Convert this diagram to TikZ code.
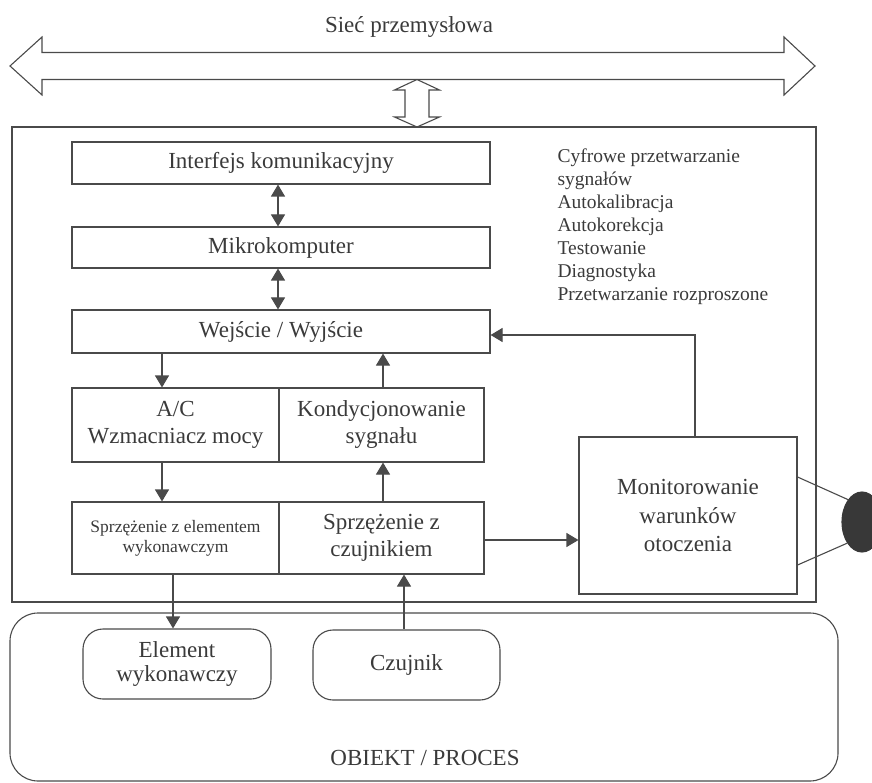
\documentclass[tikz,border=0pt]{standalone}
\usepackage{fontspec}
\setmainfont{Liberation Serif}
\usetikzlibrary{arrows.meta,shapes.geometric}
\definecolor{ink}{HTML}{4A4A4A}
\definecolor{txt}{HTML}{3A3A3A}
\definecolor{blob}{HTML}{383838}
\newcommand\txtL{\fontsize{23}{27}\selectfont}
\newcommand\txtM{\fontsize{19.5}{23}\selectfont}
\newcommand\txtS{\fontsize{17.5}{20}\selectfont}
\begin{document}
\begin{tikzpicture}[x=1pt,y=-1pt,line width=1.1pt,color=ink,
  every node/.style={text=txt},
  box/.style={draw=ink,rectangle,inner sep=0pt,align=center,font=\txtL},
  rbox/.style={box,rounded corners=20pt},
  arr/.style={-{Triangle[width=14pt,length=12pt]}},
  dbl/.style={{Triangle[width=14pt,length=12pt]}-{Triangle[width=14pt,length=12pt]}},
  hollow/.style={draw=ink,line width=1.1pt,line join=miter}]
\useasboundingbox (0,0) rectangle (872,783);

% industrial network bus
\draw[hollow] (10,66) -- (42,37) -- (42,52.5) -- (784,52.5) -- (784,37) -- (815,66)
  -- (784,95) -- (784,79.5) -- (42,79.5) -- (42,95) -- cycle;
\node[anchor=base,font=\txtL] (netlbl) at (409,33) {Sieć przemysłowa};

% link between the bus and the device
\draw[hollow] (417,79.5) -- (439.5,90) -- (429,90) -- (429,117) -- (439.5,117) -- (417,127)
  -- (394.5,117) -- (405,117) -- (405,90) -- (394.5,90) -- cycle;

% device enclosure
\node[draw=ink,minimum width=804pt,minimum height=475pt,inner sep=0pt] (dev) at (414,364.5) {};

% functional blocks
\node[box,minimum width=418pt,minimum height=42pt] (ik) at (281,163) {Interfejs komunikacyjny};
\node[box,minimum width=418pt,minimum height=41pt] (mk) at (281,247.5) {Mikrokomputer};
\node[box,minimum width=418pt,minimum height=43pt] (we) at (281,331.5) {Wejście / Wyjście};
\node[box,minimum width=207pt,minimum height=74pt] (ac) at (175.5,425) {A/C\\Wzmacniacz mocy};
\node[box,minimum width=205pt,minimum height=74pt] (kond) at (381.5,425) {Kondycjonowanie\\sygnału};
\node[box,minimum width=207pt,minimum height=72pt,font=\txtS] (spe) at (175.5,538) {Sprzężenie z elementem\\wykonawczym};
\node[box,minimum width=205pt,minimum height=72pt] (spc) at (381.5,538) {Sprzężenie z\\czujnikiem};
\node[box,minimum width=218pt,minimum height=157pt,font=\fontsize{23}{28.5}\selectfont] (mon) at (688,515.5) {Monitorowanie\\warunków\\otoczenia};

% list of functions
\node[anchor=north west,align=left,inner sep=0pt,font=\txtM] (funcs) at (557,148)
  {Cyfrowe przetwarzanie\\sygnałów\\Autokalibracja\\Autokorekcja\\Testowanie\\Diagnostyka\\Przetwarzanie rozproszone};

% environment probe
\node[ellipse,fill=blob,draw=blob,minimum width=40pt,minimum height=60pt,inner sep=0pt] (env) at (862,522) {};

% process
\node[draw=ink,rounded corners=28pt,minimum width=828pt,minimum height=168pt,inner sep=0pt] (obj) at (424,697) {};
\node[anchor=base,font=\txtL] (objlbl) at (425,765) {OBIEKT / PROCES};
\node[rbox,minimum width=188pt,minimum height=70pt,font=\fontsize{23}{24}\selectfont] (el) at (177,664) {Element\\wykonawczy};
\node[rbox,minimum width=187pt,minimum height=70pt] (cz) at (406.5,665) {Czujnik};

% connectors
\draw[dbl] ([xshift=-3pt]ik.south) -- ([xshift=-3pt]mk.north);
\draw[dbl] ([xshift=-3pt]mk.south) -- ([xshift=-3pt]we.north);
\draw[arr] ([xshift=-13.5pt]ac.north |- we.south) -- ([xshift=-13.5pt]ac.north);
\draw[arr] ([xshift=1.5pt]kond.north) -- ([xshift=1.5pt]kond.north |- we.south);
\draw[arr] ([xshift=-13.5pt]ac.south) -- ([xshift=-13.5pt]spe.north);
\draw[arr] ([xshift=1.5pt]spc.north) -- ([xshift=1.5pt]kond.south);
\draw[arr] ([xshift=-2.5pt]spe.south) -- ([xshift=-2.5pt]spe.south |- el.north);
\draw[arr] ([xshift=-2.5pt]cz.north) -- ([xshift=-2.5pt]cz.north |- spc.south);
\draw[arr] ([yshift=-2pt]spc.east) -- ([yshift=-2pt]spc.east -| mon.west);
\draw[arr] ([xshift=7pt]mon.north) |- ([yshift=-3.5pt]we.east);
\draw ([yshift=38.5pt]mon.east) -- (env.122);
\draw ([yshift=-49.5pt]mon.east) -- (env.235);
\end{tikzpicture}
\end{document}
